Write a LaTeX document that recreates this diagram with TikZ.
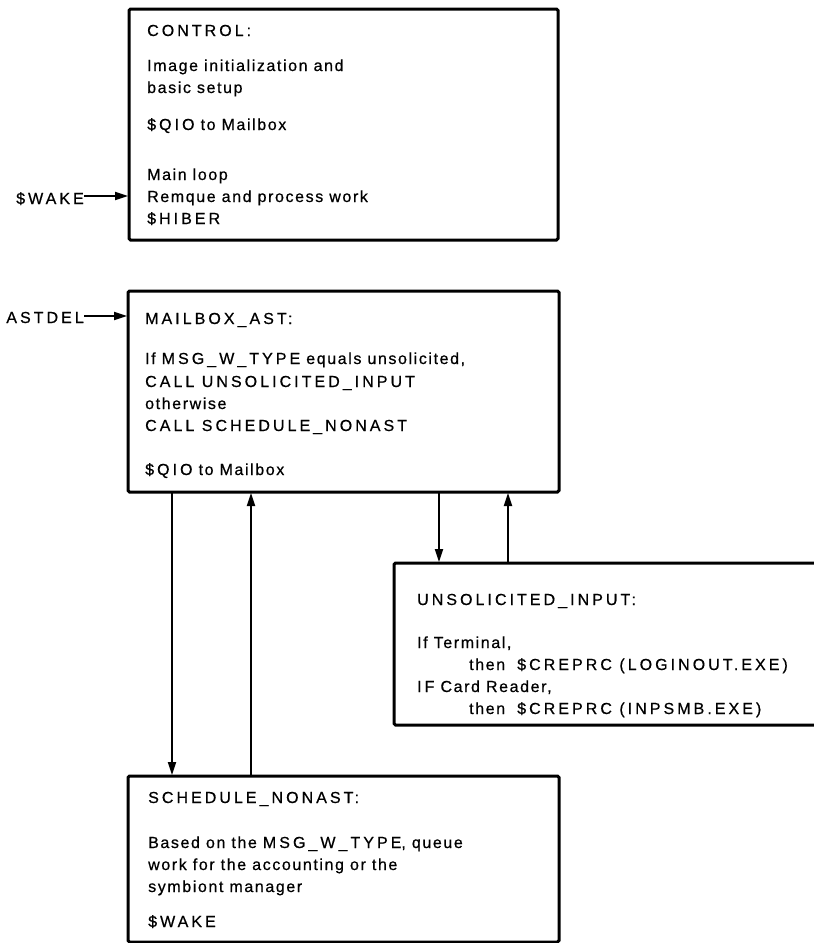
\documentclass[tikz,border=0pt]{standalone}
\usepackage{fontspec}
\setmainfont{Liberation Sans}[LetterSpace=10,FakeBold=0.6]
\usetikzlibrary{arrows.meta,calc}
% capitals are set with wider tracking
\newcommand\upw[1]{{\addfontfeature{LetterSpace=19}#1}}

\begin{document}
\begin{tikzpicture}[x=1pt,y=-1pt,
  box/.style={draw,line width=3pt,rectangle,rounded corners=1.5pt,inner sep=0pt,outer sep=0pt,anchor=north west},
  txt/.style={anchor=base west,inner sep=0pt,font=\fontsize{16}{22}\selectfont},
  side/.style={anchor=base east,inner sep=0pt,font=\fontsize{16}{22}\selectfont},
  arr/.style={line width=1.8pt,-{Triangle[length=13pt,width=8pt]},shorten >=1pt},
]
\useasboundingbox (0,0) rectangle (814,943);
\clip (0,0) rectangle (814,943);

% the four routine boxes
\node[box,minimum width=429pt,minimum height=231pt] (ctl) at (129,9) {};
\node[box,minimum width=431pt,minimum height=201pt] (mb)  at (128,291) {};
\node[box,minimum width=446pt,minimum height=162pt] (un)  at (394,563) {};
\node[box,minimum width=431pt,minimum height=166pt] (sch) at (128,776) {};

% CONTROL
\foreach \n/\yy/\t in {1/36/{\upw{CONTROL:}},
                       2/71/{Image initialization and},
                       3/93/{basic setup},
                       4/130/{\upw{\$QIO} to Mailbox},
                       5/180/{Main loop},
                       6/202/{Remque and process work},
                       7/224/{\upw{\$HIBER}}}
  \node[txt] (ctl-\n) at (147,\yy) {\t};

% MAILBOX_AST
\foreach \n/\yy/\t in {1/324/{\upw{MAILBOX\_AST:}},
                       2/364/{If \upw{MSG\_W\_TYPE} equals unsolicited,},
                       3/387/{\upw{CALL UNSOLICITED\_INPUT}},
                       4/409/{otherwise},
                       5/431/{\upw{CALL SCHEDULE\_NONAST}},
                       6/475/{\upw{\$QIO} to Mailbox}}
  \node[txt] (mb-\n) at (145,\yy) {\t};

% UNSOLICITED_INPUT
\foreach \n/\xx/\yy/\t in {1/417/605/{\upw{UNSOLICITED\_INPUT:}},
                           2/417/648/{If Terminal,},
                           3/469/670/{then~ \upw{\$CREPRC (LOGINOUT.EXE)}},
                           4/417/692/{\upw{IF} Card Reader,},
                           5/469/714/{then~ \upw{\$CREPRC (INPSMB.EXE)}}}
  \node[txt] (un-\n) at (\xx,\yy) {\t};

% SCHEDULE_NONAST
\foreach \n/\yy/\t in {1/803/{\upw{SCHEDULE\_NONAST:}},
                       2/848/{Based on the \upw{MSG\_W\_TYPE}, queue},
                       3/870/{work for the accounting or the},
                       4/892/{symbiont manager},
                       5/927/{\upw{\$WAKE}}}
  \node[txt] (sch-\n) at (148,\yy) {\t};

% entry points
\node[side] (wake) at (84,204) {\upw{\$WAKE}};
\node[side] (ast)  at (84,323) {\upw{ASTDEL}};
\draw[arr] (wake.east |- 0,196) -- (ctl.west |- 0,196);
\draw[arr] (ast.east |- 0,316) -- (mb.west |- 0,316);

% calls between routines
\coordinate (p1) at ($(mb.south west)+(44,0)$);
\coordinate (p2) at ($(mb.south west)+(123,0)$);
\coordinate (p3) at ($(mb.south west)+(311,0)$);
\coordinate (p4) at ($(mb.south west)+(380,0)$);
\draw[arr] (p1) -- (p1 |- sch.north);
\draw[arr] (p2 |- sch.north) -- (p2);
\draw[arr] (p3) -- (p3 |- un.north);
\draw[arr] (p4 |- un.north) -- (p4);
\end{tikzpicture}
\end{document}
